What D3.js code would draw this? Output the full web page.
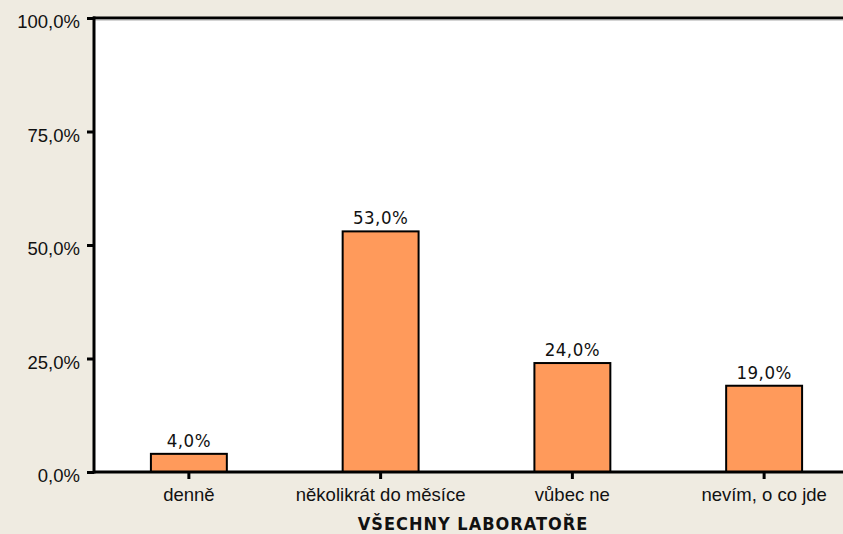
<!DOCTYPE html>
<html>
<head>
<meta charset="utf-8">
<script src="https://cdn.jsdelivr.net/npm/d3@7"></script>
<style>
  body { margin: 0; background: #efebe1; }
  svg { display: block; font-family: "DejaVu Sans Condensed", "DejaVu Sans", sans-serif; }
</style>
</head>
<body>
<div id="chart"></div>
<script>
const categories = ["denně", "několikrát do měsíce", "vůbec ne", "nevím, o co jde"];
const values = [4.0, 53.0, 24.0, 19.0];
const yTicks = [0, 25, 50, 75, 100];
const axisTitle = "VŠECHNY LABORATOŘE";

const width = 843,
  height = 534;
const plot = { left: 94, top: 18, right: 861, bottom: 472 };

const fmt = (v) => v.toFixed(1).replace(".", ",") + "%";

const svg = d3
  .select("#chart")
  .append("svg")
  .attr("width", width)
  .attr("height", height);

const x = d3
  .scaleBand()
  .domain(categories)
  .range([plot.left - 1, plot.right - 1])
  .paddingInner(0.604)
  .paddingOuter(0.302);

const y = d3.scaleLinear().domain([0, 100]).range([plot.bottom, plot.top]);

// plot background
svg
  .append("rect")
  .attr("x", plot.left)
  .attr("y", plot.top)
  .attr("width", plot.right - plot.left)
  .attr("height", plot.bottom - plot.top)
  .attr("fill", "#fff");

// bars
svg
  .selectAll("rect.bar")
  .data(values)
  .enter()
  .append("rect")
  .attr("class", "bar")
  .attr("x", (d, i) => x(categories[i]))
  .attr("y", (d) => y(d))
  .attr("width", x.bandwidth())
  .attr("height", (d) => y(0) - y(d))
  .attr("fill", "#ff9a5b")
  .attr("stroke", "#000")
  .attr("stroke-width", 2);

// value labels
svg
  .selectAll("text.val")
  .data(values)
  .enter()
  .append("text")
  .attr("class", "val")
  .attr("x", (d, i) => x(categories[i]) + x.bandwidth() / 2)
  .attr("y", (d) => y(d) - 7)
  .attr("text-anchor", "middle")
  .attr("font-size", "18.5px")
  .attr("letter-spacing", "0.5px")
  .attr("fill", "#111")
  .text(fmt);

// y axis
const yAxis = svg
  .append("g")
  .attr("transform", `translate(${plot.left},0)`)
  .call(d3.axisLeft(y).tickValues(yTicks).tickSize(7).tickPadding(7).tickFormat(fmt));
yAxis.select(".domain").remove();
yAxis.selectAll(".tick line").attr("stroke", "#000").attr("stroke-width", 3);
yAxis
  .selectAll(".tick text")
  .attr("font-size", "18.5px")
  .attr("fill", "#111")
  .attr("font-family", null)
  .attr("dy", "9.5px");

// x axis
const xAxis = svg
  .append("g")
  .attr("transform", `translate(0,${plot.bottom})`)
  .call(d3.axisBottom(x).tickSize(7));
xAxis.select(".domain").remove();
xAxis.selectAll(".tick line").attr("stroke", "#000").attr("stroke-width", 3);
xAxis
  .selectAll(".tick text")
  .attr("font-size", "18.5px")
  .attr("fill", "#111")
  .attr("font-family", null)
  .attr("y", 29)
  .attr("dy", 0);

// frame lines
svg.append("line")
  .attr("x1", plot.left - 1).attr("x2", width)
  .attr("y1", plot.top).attr("y2", plot.top)
  .attr("stroke", "#000").attr("stroke-width", 3);
svg.append("line")
  .attr("x1", plot.left - 1).attr("x2", width)
  .attr("y1", plot.top + 2).attr("y2", plot.top + 2)
  .attr("stroke", "#aaa").attr("stroke-width", 1);
svg.append("line")
  .attr("x1", plot.left).attr("x2", plot.left)
  .attr("y1", plot.top - 1.5).attr("y2", plot.bottom + 1.5)
  .attr("stroke", "#000").attr("stroke-width", 3);
svg.append("line")
  .attr("x1", plot.left - 1).attr("x2", width)
  .attr("y1", plot.bottom).attr("y2", plot.bottom)
  .attr("stroke", "#000").attr("stroke-width", 3);

// axis title
svg
  .append("text")
  .attr("x", 473)
  .attr("y", 530)
  .attr("text-anchor", "middle")
  .attr("font-size", "18px")
  .attr("font-weight", "bold")
  .attr("letter-spacing", "1px")
  .attr("fill", "#111")
  .text(axisTitle);
</script>
</body>
</html>
